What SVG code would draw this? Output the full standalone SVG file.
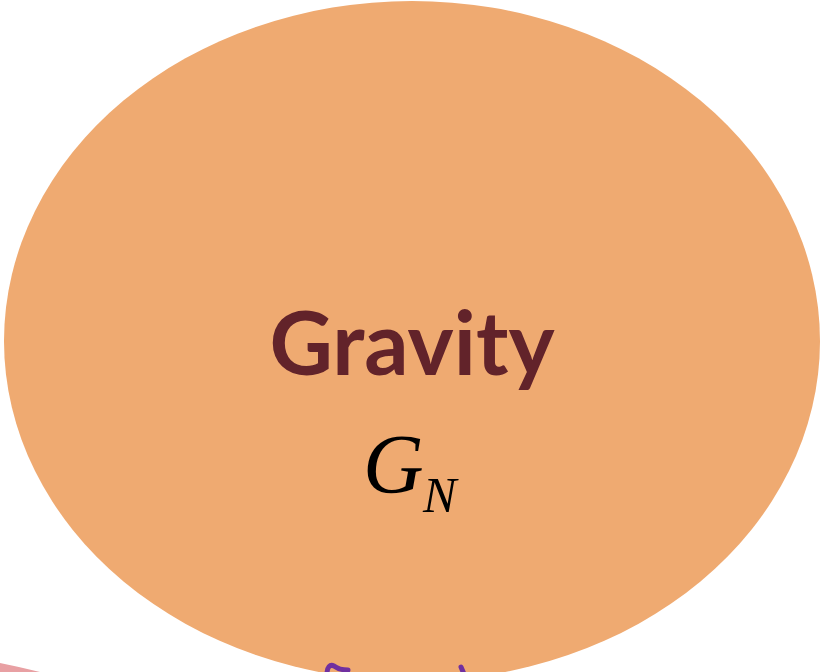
<svg xmlns="http://www.w3.org/2000/svg" width="821" height="672" viewBox="0 0 821 672">
<style>
.title{font-family:"Lato","Open Sans","Liberation Sans",sans-serif;font-weight:bold;fill:#62232A}
.math{font-family:"Liberation Serif","DejaVu Serif",serif;font-style:italic;fill:#000}
.curve{fill:none;stroke:#7030A0;stroke-width:5;stroke-linecap:round}
</style>
<rect width="821" height="672" fill="#fff"/>
<g id="pink-node">
<path d="M0,663 Q20,667 40,672 L0,672 Z" fill="#E8A0A3"/>
</g>
<g id="gravity">
<ellipse cx="412" cy="341" rx="408" ry="340" fill="#EFAA71"/>
<text class="title" x="412" y="375" font-size="88" text-anchor="middle" textLength="285" lengthAdjust="spacingAndGlyphs">Gravity</text>
<text class="math" x="363" y="493" font-size="84">G</text>
<text class="math" x="423" y="512" font-size="50">N</text>
</g>
<g id="connectors">
<path class="curve" d="M327,674 C327,667 330,664 334,666 C338,669 342,670 348,670"/>
<path class="curve" d="M461,667 L464,674"/>
</g>
</svg>
